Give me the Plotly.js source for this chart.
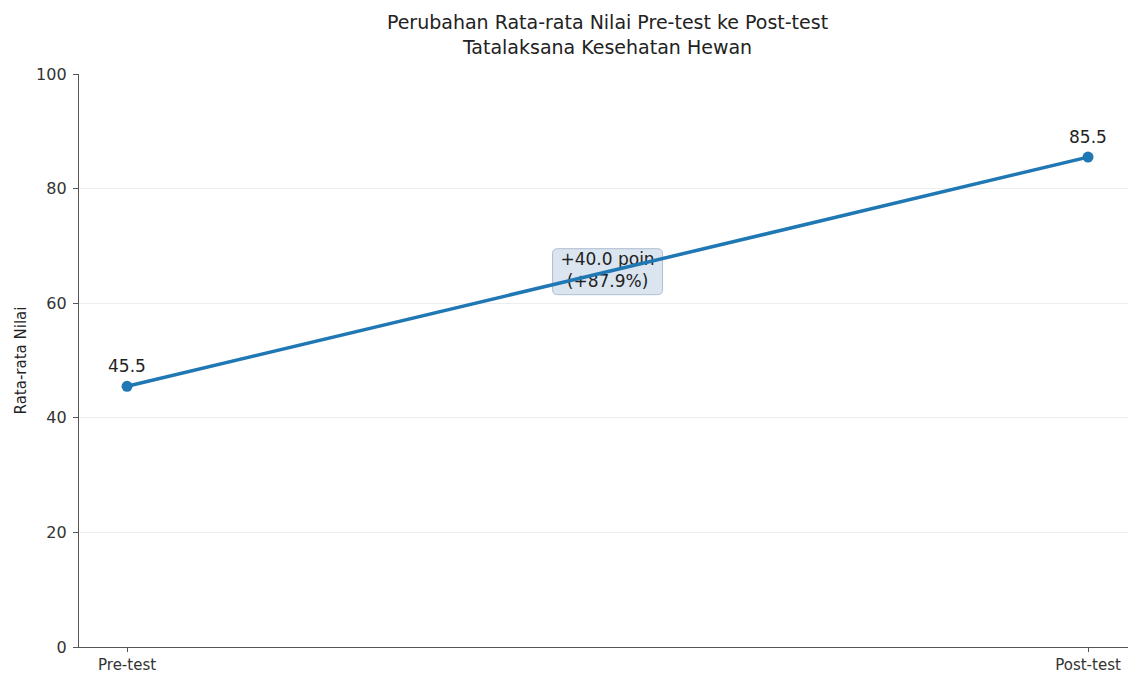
<!DOCTYPE html>
<html>
<head>
<meta charset="utf-8">
<script src="https://cdn.plot.ly/plotly-3.0.1.min.js"></script>
<style>html,body{margin:0;padding:0;background:#fff;}#chart{width:1128px;height:674px;}</style>
</head>
<body>
<div id="chart"></div>
<script>
const categories = ['Pre-test', 'Post-test'];
const scores = [45.5, 85.5];
const yTicks = [0, 20, 40, 60, 80, 100];

const xIdx = categories.map((c, i) => i);
const diff = scores[1] - scores[0];
const pct = diff / scores[0] * 100;
const midX = (xIdx[0] + xIdx[1]) / 2;
const midY = (scores[0] + scores[1]) / 2;
const FONT = 'DejaVu Sans, sans-serif';

// change label drawn under the line (as in the reference)
const changeText = {
  x: [midX], y: [midY],
  type: 'scatter', mode: 'text',
  text: ['+' + diff.toFixed(1) + ' poin<br>(+' + pct.toFixed(1) + '%)'],
  textposition: 'middle center',
  textfont: {family: FONT, size: 17, color: '#222'},
  hoverinfo: 'skip'
};

const trace = {
  x: xIdx,
  y: scores,
  type: 'scatter',
  mode: 'lines+markers',
  line: {color: '#1f77b4', width: 3.5},
  marker: {color: '#1f77b4', size: 11},
  hoverinfo: 'skip'
};

const annotations = scores.map((v, i) => ({
  x: xIdx[i], y: v, xref: 'x', yref: 'y',
  text: v.toFixed(1), showarrow: false,
  yshift: 20, font: {family: FONT, size: 17, color: '#222'}
}));

// rounded box behind the change label
const w = 55, h = 23, r = 5;
const boxPath = `M ${-w + r} ${-h} L ${w - r} ${-h} Q ${w} ${-h} ${w} ${-h + r} L ${w} ${h - r} Q ${w} ${h} ${w - r} ${h} L ${-w + r} ${h} Q ${-w} ${h} ${-w} ${h - r} L ${-w} ${-h + r} Q ${-w} ${-h} ${-w + r} ${-h} Z`;

const layout = {
  width: 1128, height: 674,
  margin: {l: 79, r: 0, t: 74, b: 27},
  paper_bgcolor: '#fff', plot_bgcolor: '#fff',
  showlegend: false,
  title: {
    text: 'Perubahan Rata-rata Nilai Pre-test ke Post-test<br>Tatalaksana Kesehatan Hewan',
    font: {family: FONT, size: 19, color: '#222'},
    x: 607.5 / 1128, xref: 'container', xanchor: 'center',
    y: 0.957, yref: 'container', yanchor: 'top'
  },
  xaxis: {
    range: [-0.05, 1.0416],
    tickvals: xIdx, ticktext: categories,
    showgrid: false, zeroline: false,
    showline: true, linecolor: '#555', linewidth: 1.2,
    ticks: 'outside', ticklen: 4, tickcolor: '#555',
    tickfont: {family: FONT, size: 15, color: '#333'}
  },
  yaxis: {
    range: [0, 100],
    tickvals: yTicks,
    showgrid: true, gridcolor: '#ededed', gridwidth: 1,
    zeroline: false,
    showline: true, linecolor: '#555', linewidth: 1.2,
    ticks: 'outside', ticklen: 5, tickcolor: '#555',
    ticklabelstandoff: 3,
    tickfont: {family: FONT, size: 16, color: '#333'},
    title: {text: 'Rata-rata Nilai', font: {family: FONT, size: 15, color: '#222'}, standoff: 5}
  },
  shapes: [{
    type: 'path', layer: 'below',
    xref: 'x', yref: 'y',
    xsizemode: 'pixel', ysizemode: 'pixel',
    xanchor: midX, yanchor: midY,
    path: boxPath,
    fillcolor: 'rgba(205,220,235,0.75)',
    line: {color: 'rgba(170,185,205,0.9)', width: 1}
  }],
  annotations: annotations
};

Plotly.newPlot('chart', [changeText, trace], layout, {displayModeBar: false, staticPlot: true});
</script>
</body>
</html>
